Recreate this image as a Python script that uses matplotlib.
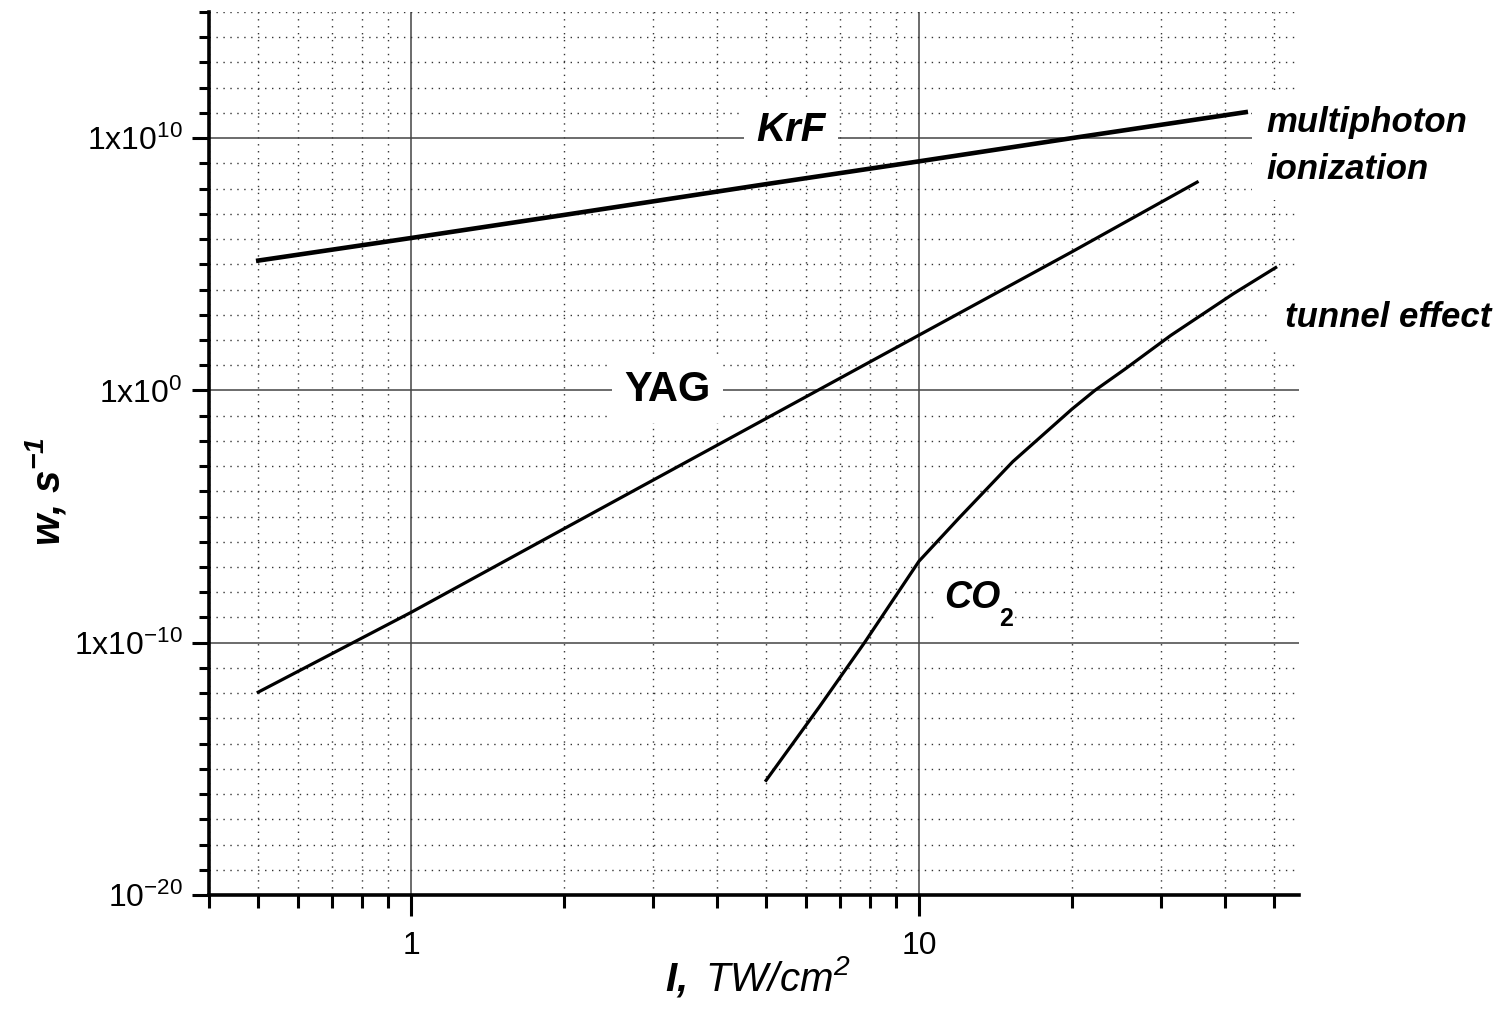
import matplotlib
matplotlib.use('Agg')
import matplotlib.pyplot as plt
from matplotlib.ticker import FixedLocator, FixedFormatter, NullFormatter

plt.rcParams['font.family'] = ['Liberation Sans', 'DejaVu Sans']
plt.rcParams['mathtext.fontset'] = 'custom'
plt.rcParams['mathtext.rm'] = 'Liberation Sans'
plt.rcParams['mathtext.it'] = 'Liberation Sans:italic'
plt.rcParams['mathtext.bf'] = 'Liberation Sans:bold:italic'
plt.rcParams['mathtext.default'] = 'regular'

# intensity I (TW/cm^2) and ionization rate w (1/s)
krf_I = [0.5, 1, 2, 5, 10, 20, 44]
krf_w = [1.4e5, 1.1e6, 9e6, 1.5e8, 1.2e9, 1e10, 1.07e11]

yag_I = [0.5, 1, 2, 5, 10, 20, 35.3]
yag_w = [1.1e-12, 1.6e-9, 3.3e-6, 7.7e-2, 1.55e2, 3.1e5, 1.8e8]

co2_I = [5.0, 6.36, 7.81, 10.0, 12.0, 15.3, 20.0, 22.2, 25.4, 31.3, 41.6, 50.4]
co2_w = [3.5e-16, 2.8e-13, 1e-10, 1.7e-7, 8.9e-6, 1.5e-3, 0.18, 1.0, 6.8, 150, 6.8e3, 7.4e4]

y_major = [1e-20, 1e-10, 1e0, 1e10]
y_major_labels = ['10$^{-20}$', '1x10$^{-10}$', '1x10$^{0}$', '1x10$^{10}$']
x_major = [1, 10]
x_major_labels = ['1', '10']

y_minor = [10.0 ** k for k in range(-19, 16) if k % 10 != 0]
x_minor = [0.4, 0.5, 0.6, 0.7, 0.8, 0.9, 2, 3, 4, 5, 6, 7, 8, 9, 20, 30, 40, 50]

fig = plt.figure(figsize=(15.06, 10.23), dpi=100)
ax = fig.add_axes([0.1388, 0.1251, 0.7237, 0.8632])
ax.set_xscale('log')
ax.set_yscale('log')
ax.set_xlim(0.4, 56)
ax.set_ylim(1e-20, 1e15)

ax.xaxis.set_major_locator(FixedLocator(x_major))
ax.xaxis.set_major_formatter(FixedFormatter(x_major_labels))
ax.xaxis.set_minor_locator(FixedLocator(x_minor))
ax.xaxis.set_minor_formatter(NullFormatter())
ax.yaxis.set_major_locator(FixedLocator(y_major))
ax.yaxis.set_major_formatter(FixedFormatter(y_major_labels))
ax.yaxis.set_minor_locator(FixedLocator(y_minor))
ax.yaxis.set_minor_formatter(NullFormatter())

ax.grid(which='minor', linestyle=(0, (1, 4)), color='#333333', linewidth=1.0)
ax.grid(which='major', linestyle='-', color='#444444', linewidth=1.1)
ax.set_axisbelow(True)

for s in ['top', 'right']:
    ax.spines[s].set_visible(False)
for s in ['left', 'bottom']:
    ax.spines[s].set_linewidth(2.6)

ax.tick_params(axis='y', which='major', direction='out', length=12, width=2.2, labelsize=23, pad=7)
ax.tick_params(axis='y', which='minor', direction='out', length=7.5, width=2.2)
ax.tick_params(axis='x', which='major', direction='out', length=15, width=2.2, labelsize=23, pad=11)
ax.tick_params(axis='x', which='minor', direction='out', length=9, width=2.2)

ax.plot(krf_I, krf_w, color='black', linewidth=3.3, zorder=5)
ax.plot(yag_I, yag_w, color='black', linewidth=2.3, zorder=5)
ax.plot(co2_I, co2_w, color='black', linewidth=2.3, zorder=5)

box = dict(facecolor='white', edgecolor='none', pad=9)
ax.text(5.6, 2.1e10, 'KrF', fontsize=29, fontweight='bold', fontstyle='italic',
        ha='center', va='center', bbox=box, zorder=4)
ax.text(3.2, 1e0, 'YAG', fontsize=30, fontweight='bold',
        ha='center', va='center', bbox=box, zorder=4)
ax.text(11.2, 2.36e-9, 'CO', fontsize=27, fontweight='bold', fontstyle='italic',
        ha='left', va='baseline', bbox=dict(facecolor='white', edgecolor='none', pad=7), zorder=4)
ax.text(14.4, 4.6e-10, '2', fontsize=18, fontweight='bold',
        ha='left', va='baseline', zorder=4)

side = dict(facecolor='white', edgecolor='none', pad=10)
ax.text(48.3, 1.78e10, 'multiphoton', fontsize=25, fontweight='bold', fontstyle='italic',
        ha='left', va='baseline', bbox=side, zorder=4)
ax.text(48.3, 2.45e8, 'ionization', fontsize=25, fontweight='bold', fontstyle='italic',
        ha='left', va='baseline', bbox=side, zorder=4)
ax.text(52.5, 340, 'tunnel effect', fontsize=25, fontweight='bold', fontstyle='italic',
        ha='left', va='baseline', bbox=side, zorder=4)

fig.text(0.503, 0.023, r'$\mathbf{I,}$ TW/cm$^{2}$', fontsize=29, fontstyle='italic',
         ha='center', va='bottom')
fig.text(0.03, 0.52, 'w, s$^{-1}$', fontsize=29, fontweight='bold', fontstyle='italic',
         rotation=90, ha='center', va='center')

fig.savefig('out.png', dpi=100)
